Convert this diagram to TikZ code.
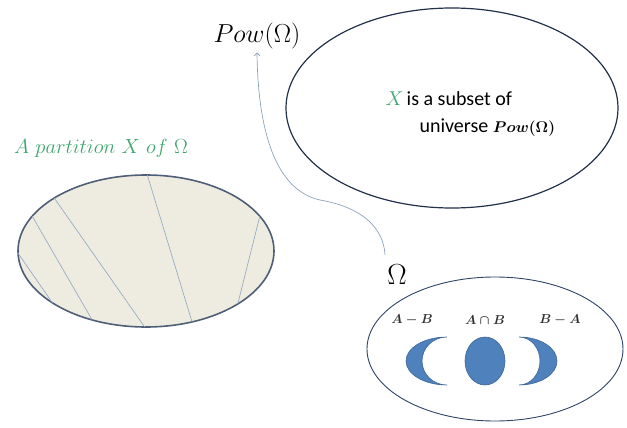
\RequirePackage{fix-cm}
\documentclass[tikz,border=0pt]{standalone}
\usepackage{fontspec}
\newfontfamily\calibrifont{Carlito}
\usetikzlibrary{shapes.geometric,arrows.meta}
\definecolor{partfill}{HTML}{EEECE1}
\definecolor{partedge}{HTML}{4F5F78}
\definecolor{cutline}{HTML}{8FA5C0}
\definecolor{univedge}{HTML}{22304A}
\definecolor{omgedge}{HTML}{2E4468}
\definecolor{moonfill}{HTML}{4F81BD}
\definecolor{moonedge}{HTML}{3B6698}
\definecolor{arrowgrey}{HTML}{8CA2BA}
\definecolor{mintgreen}{HTML}{3DA56B}

\begin{document}
\begin{tikzpicture}[x=1pt,y=-1pt,
  oval/.style={draw,ellipse,inner sep=0pt,outer sep=0pt},
  cut/.style={draw=cutline,line width=0.6pt},
  moon/.style={fill=moonfill,draw=moonedge,line width=0.6pt},
  setlbl/.style={font=\fontsize{13}{15}\selectfont\boldmath,text=black!80},
  arrw/.style={-{Straight Barb[length=3pt,width=6pt]},draw=arrowgrey,line width=0.7pt}]
\useasboundingbox (0,0) rectangle (627,428);

% the partition of Omega
\node[text=mintgreen,font=\fontsize{20.5}{24}\selectfont] (ptitle) at (101,148)
  {$A\ partition\ X\ of\ \Omega$};
\node[oval,fill=partfill,draw=partedge,line width=1.6pt,
  minimum width=256pt,minimum height=152pt] (part) at (146,251) {};
\draw[cut] (part.181)--(part.209);
\draw[cut] (part.163)--(part.232);
\draw[cut] (part.150)--(part.269);
\draw[cut] (part.89)--(part.303);
\draw[cut] (part.17)--(part.330);

% universe
\node[font=\fontsize{26}{30}\selectfont] (pow) at (257,36) {$Pow(\Omega)$};
\node[oval,draw=univedge,line width=1.2pt,
  minimum width=332pt,minimum height=200pt] (univ) at (452,108) {};
\node[anchor=base west,font=\fontsize{20}{24}\calibrifont] (subsA) at (382,106)
  {{\color{mintgreen}$X$}\,is a subset of};
\node[anchor=base west,font=\fontsize{20}{24}\calibrifont] (subsB) at (416,132)
  {universe {\fontsize{15.5}{18}\selectfont\boldmath$Pow(\Omega)$}};

% Omega with A and B
\node[font=\fontsize{29}{32}\selectfont] (omega) at (397,275) {$\Omega$};
\coordinate (src) at (385,255);
\draw[arrw] (src) .. controls (383,220) and (350,205) .. (320,200)
  .. controls (275,190) and (258,130) .. (pow.south);
\node[oval,draw=omgedge,line width=0.9pt,
  minimum width=256pt,minimum height=144pt] (omg) at (495,349) {};
\node[setlbl] (amb) at (412,320) {$A-B$};
\node[setlbl] (aib) at (485,320) {$A\cap B$};
\node[setlbl] (bma) at (560,320) {$B-A$};
\draw[moon] (447,337) arc[start angle=90,end angle=270,x radius=41pt,y radius=24pt]
  arc[start angle=270,end angle=90,x radius=25pt,y radius=24pt] -- cycle;
\node[oval,moon,minimum width=40pt,minimum height=48pt] (blob) at (485,361) {};
\draw[moon] (519,337) arc[start angle=90,end angle=-90,x radius=38pt,y radius=24pt]
  arc[start angle=-90,end angle=90,x radius=21pt,y radius=24pt] -- cycle;
\end{tikzpicture}
\end{document}
